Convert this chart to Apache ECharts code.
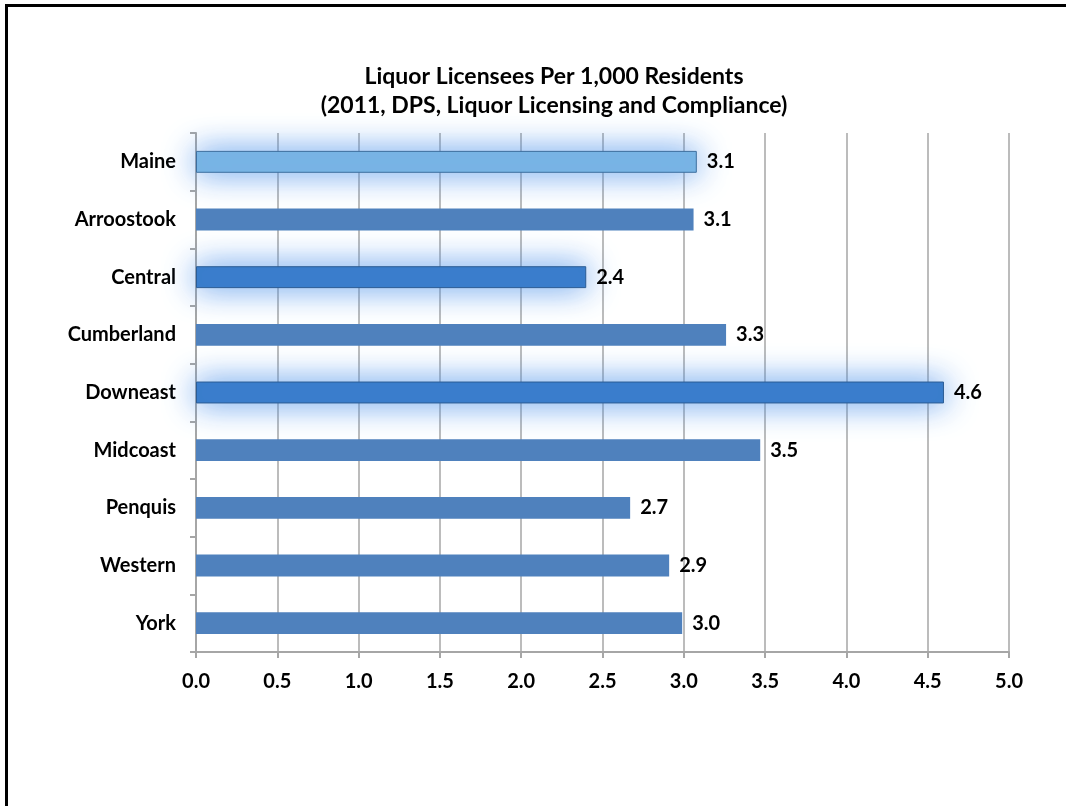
<!DOCTYPE html>
<html>
<head>
<meta charset="utf-8">
<script src="https://cdn.jsdelivr.net/npm/echarts@6/dist/echarts.min.js"></script>
<style>
html,body{margin:0;padding:0;background:#fff;}
#chart{width:1066px;height:806px;}
</style>
</head>
<body>
<div id="chart"></div>
<script>
const titleLines = ['Liquor Licensees Per 1,000 Residents', '(2011, DPS, Liquor Licensing and Compliance)'];
const categories = ['Maine', 'Arroostook', 'Central', 'Cumberland', 'Downeast', 'Midcoast', 'Penquis', 'Western', 'York'];
const values = [3.08, 3.06, 2.40, 3.26, 4.60, 3.47, 2.67, 2.91, 2.99];
const highlighted = ['Maine', 'Central', 'Downeast'];
const xTicks = [0, 0.5, 1, 1.5, 2, 2.5, 3, 3.5, 4, 4.5, 5];

const FONT = 'Lato, "Open Sans", sans-serif';
const baseColor = '#4F81BD';
const maineColor = '#7AB6E5';
const hiColor = '#3A7DCB';

const seriesData = values.map((v, i) => {
  const name = categories[i];
  if (name === 'Maine') {
    return {value: v, itemStyle: {color: maineColor, borderColor: '#3D6E9E', borderWidth: 1,
      shadowBlur: 32, shadowColor: 'rgba(75,145,235,0.95)'}};
  }
  if (highlighted.includes(name)) {
    return {value: v, itemStyle: {color: hiColor, borderColor: '#2B5C94', borderWidth: 1,
      shadowBlur: 32, shadowColor: 'rgba(75,145,235,0.95)'}};
  }
  return {value: v};
});

const chart = echarts.init(document.getElementById('chart'), null, {renderer: 'canvas'});
chart.setOption({
  animation: false,
  backgroundColor: '#fff',
  title: {
    text: titleLines.join('\n'),
    left: 549, top: 57, textAlign: 'center',
    textStyle: {fontFamily: FONT, fontSize: 23, fontWeight: 'bold', color: '#000', lineHeight: 29}
  },
  graphic: [
    {type: 'line', shape: {x1: 6, y1: 5.5, x2: 1066, y2: 5.5}, style: {stroke: '#000', lineWidth: 3}},
    {type: 'line', shape: {x1: 6.5, y1: 4, x2: 6.5, y2: 806}, style: {stroke: '#000', lineWidth: 3}}
  ],
  grid: {left: 196, right: 57, top: 133, bottom: 154, containLabel: false},
  xAxis: {
    type: 'value', min: 0, max: 5, interval: 0.5,
    axisLine: {show: true, lineStyle: {color: '#A6A6A6', width: 2}},
    axisTick: {show: true, length: 6, lineStyle: {color: '#A6A6A6', width: 2}},
    splitLine: {show: true, lineStyle: {color: '#A6A6A6', width: 1.5}},
    axisLabel: {
      fontFamily: FONT, fontSize: 20, fontWeight: 'bold', color: '#000', margin: 20,
      formatter: v => xTicks.includes(v) ? v.toFixed(1) : ''
    }
  },
  yAxis: {
    type: 'category', inverse: true, data: categories,
    axisLine: {show: true, lineStyle: {color: '#A6A6A6', width: 2}},
    axisTick: {show: true, length: 6, lineStyle: {color: '#A6A6A6', width: 2}},
    axisLabel: {fontFamily: FONT, fontSize: 20, fontWeight: 'bold', color: '#000', margin: 20}
  },
  series: [{
    type: 'bar',
    data: seriesData,
    barWidth: '38%',
    itemStyle: {color: baseColor},
    label: {
      show: true, position: 'right', distance: 10,
      fontFamily: FONT, fontSize: 20, fontWeight: 'bold', color: '#000',
      formatter: p => p.value.toFixed(1)
    }
  }]
});
</script>
</body>
</html>
